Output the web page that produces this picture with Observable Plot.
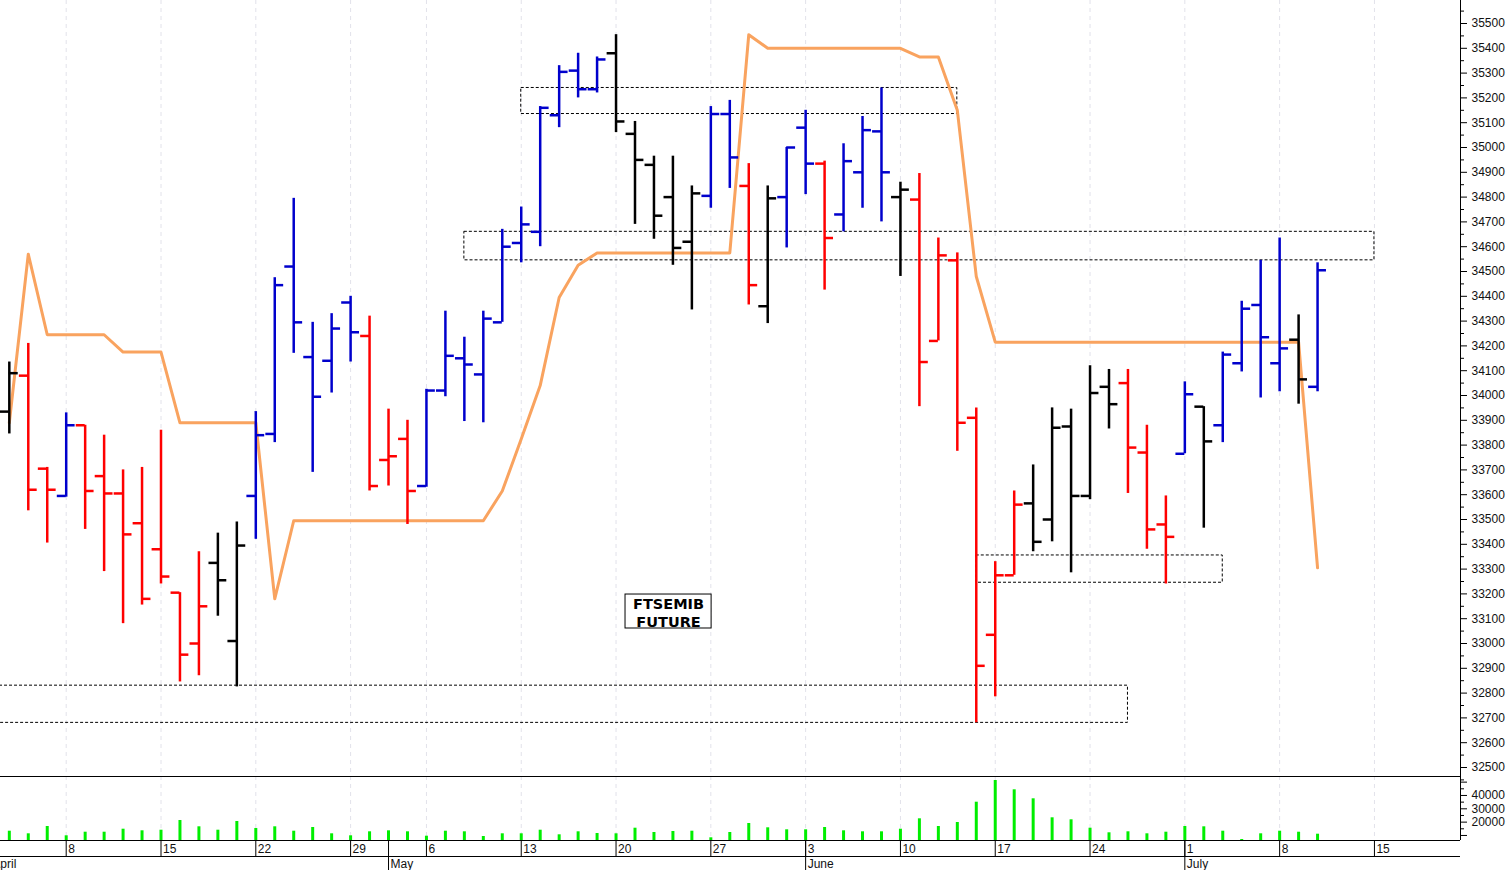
<!DOCTYPE html>
<html>
<head>
<meta charset="utf-8">
<script src="https://cdn.jsdelivr.net/npm/d3@7"></script>
<script src="https://cdn.jsdelivr.net/npm/@observablehq/plot@0.6"></script>
<style>
html, body { margin: 0; padding: 0; background: #fff; }
#chart { position: relative; width: 1508px; height: 870px; overflow: hidden; background: #fff; }
#chart svg { display: block; }
</style>
</head>
<body>
<div id="chart"></div>
<script>
// ---------------- DATA ----------------
const dates = [
  "2024-04-03","2024-04-04","2024-04-05","2024-04-08","2024-04-09","2024-04-10","2024-04-11","2024-04-12","2024-04-15","2024-04-16",
  "2024-04-17","2024-04-18","2024-04-19","2024-04-22","2024-04-23","2024-04-24","2024-04-25","2024-04-26","2024-04-29","2024-04-30",
  "2024-05-02","2024-05-03","2024-05-06","2024-05-07","2024-05-08","2024-05-09","2024-05-10","2024-05-13","2024-05-14","2024-05-15",
  "2024-05-16","2024-05-17","2024-05-20","2024-05-21","2024-05-22","2024-05-23","2024-05-24","2024-05-27","2024-05-28","2024-05-29",
  "2024-05-30","2024-05-31","2024-06-03","2024-06-04","2024-06-05","2024-06-06","2024-06-07","2024-06-10","2024-06-11","2024-06-12",
  "2024-06-13","2024-06-14","2024-06-17","2024-06-18","2024-06-19","2024-06-20","2024-06-21","2024-06-24","2024-06-25","2024-06-26",
  "2024-06-27","2024-06-28","2024-07-01","2024-07-02","2024-07-03","2024-07-04","2024-07-05","2024-07-08","2024-07-09","2024-07-10"
];
const opens = [
  33935,34080,33705,33595,33880,33675,33605,33485,33380,33205,
  33000,33325,33010,33595,33845,34520,34155,34140,34375,34240,
  33740,33825,33635,34020,34150,34085,34295,34615,34660,35130,
  35310,35235,35380,35055,34930,34800,34620,34805,35135,34845,
  34360,34800,35080,34935,34730,34900,35065,34800,34790,34220,
  34545,33910,33035,33275,33565,33500,33875,33595,34035,34050,
  33770,33480,33765,33955,33880,34130,34365,34130,34225,34035
];
const highs = [
  34135,34210,33710,33930,33880,33840,33700,33710,33860,33205,
  33370,33445,33490,33935,34475,34795,34295,34330,34400,34320,
  33945,33900,34025,34340,34235,34340,34670,34760,35165,35330,
  35380,35365,35455,35105,34965,34965,34845,35165,35190,34935,
  34845,35000,35150,34945,35015,35125,35240,34860,34895,34635,
  34575,33950,33330,33615,33720,33950,33945,34120,34105,34105,
  33880,33595,34055,33955,34175,34380,34545,34635,34325,34535
];
const lows = [
  33845,33535,33405,33590,33460,33290,33080,33155,33240,32845,
  32870,33110,32825,33420,33810,34170,33690,34010,34135,33615,
  33635,33480,33630,33995,33895,33890,34295,34535,34600,35080,
  35200,35220,35060,34690,34630,34525,34345,34755,34835,34365,
  34290,34595,34810,34425,34660,34755,34700,34480,33955,34220,
  33775,32680,32785,33275,33370,33410,33285,33580,33865,33605,
  33380,33240,33765,33465,33810,34095,33990,34015,33965,34015
];
const closes = [
  34090,33620,33620,33880,33615,33605,33440,33180,33270,32955,
  33150,33255,33395,33840,34445,34295,33995,34270,34255,33635,
  33755,33615,34020,34160,34125,34310,34600,34690,35160,35305,
  35235,35355,35105,34950,34725,34595,34815,35135,34960,34445,
  34795,35000,34935,34635,34945,35070,34900,34830,34135,34565,
  33890,32910,33275,33560,33410,33870,33595,34010,33965,33790,
  33460,33430,34005,33815,34165,34350,34235,34190,34065,34505
];
// bar colour signal: R = red, B = blue, K = black
const signals = [
  "K","R","R","B","R","R","R","R","R","R",
  "R","K","K","B","B","B","B","B","B","R",
  "R","R","B","B","B","B","B","B","B","B",
  "B","B","K","K","K","K","K","B","B","R",
  "K","B","B","R","B","B","B","K","R","R",
  "R","R","R","R","K","K","K","K","K","R",
  "R","R","B","K","B","B","B","B","K","B"
];
// orange trailing line
const trend = [
  33890,34570,34245,34245,34245,34245,34175,34175,34175,33890,
  33890,33890,33890,33890,33180,33495,33495,33495,33495,33495,
  33495,33495,33495,33495,33495,33495,33615,33825,34040,34395,
  34525,34575,34575,34575,34575,34575,34575,34575,34575,35455,
  35400,35400,35400,35400,35400,35400,35400,35400,35365,35365,
  35150,34480,34215,34215,34215,34215,34215,34215,34215,34215,
  34215,34215,34215,34215,34215,34215,34215,34215,34215,33305
];
const volumes = [
  13200,11250,16725,9750,12450,12450,14700,13500,13950,21225,
  16500,13950,20475,15225,16500,13200,15975,11250,9750,12750,
  13500,12750,9450,13200,12750,9225,11250,11250,13950,10500,
  12750,11475,11250,15450,12225,12975,13200,8250,12225,18975,
  15750,14250,14250,15975,13500,12750,12750,14700,22500,16725,
  19725,34950,51225,44250,37500,23250,21750,15450,12000,12750,
  11250,12450,16725,16500,13200,6975,11250,13200,12450,10950
];
// dashed price zones
const zoneStart = ["2024-05-13","2024-05-08","2024-06-14","2024-03-25"];
const zoneEnd   = ["2024-06-13","2024-07-15","2024-07-03","2024-06-26"];
const zoneLow   = [35135, 34545, 33245, 32680];
const zoneHigh  = [35240, 34660, 33355, 32830];
// note box
const noteLines = ["FTSEMIB", "FUTURE"];
const noteDate = "2024-05-23";
const notePrice = 33129;
// axis ticks
const priceTicks = d3.range(32500, 35501, 100);
const priceMinor = d3.range(32450, 35600, 100);
const volTicks = [10000, 20000, 30000, 40000, 50000];
const volLabelled = [20000, 30000, 40000];
const volMinor = [15000, 25000, 35000, 45000];
const monthNames = ["January","February","March","April","May","June","July","August","September","October","November","December"];
const holidays = ["2024-03-29", "2024-04-01", "2024-05-01"];

// ---------------- TRADING CALENDAR ----------------
const cal = [];
for (let t = Date.UTC(2024, 2, 25); t <= Date.UTC(2024, 7, 2); t += 86400000) {
  const d = new Date(t), dow = d.getUTCDay(), s = d.toISOString().slice(0, 10);
  if (dow === 0 || dow === 6 || holidays.includes(s)) continue;
  cal.push(s);
}
const base = cal.indexOf("2024-04-08");
const idx = s => cal.indexOf(s) - base;

// layout constants (pixels)
const W = 1508, PLOT_RIGHT = 1460, X0 = 65.7, DAY = 18.96;
const xDomain = [-X0 / DAY, (PLOT_RIGHT - X0) / DAY];
const PRICE_H = 776, Y_TOP = 23, Y_BOT = 767;
const ppx = 3000 / (Y_BOT - Y_TOP);
const yDomain = [32500 - (PRICE_H - Y_BOT) * ppx, 35500 + Y_TOP * ppx];
const VOL_H = 64;
const vDomain = [6225, 54225];
const AX_H = 30;

const bars = dates.map((d, k) => ({
  i: idx(d), open: opens[k], high: highs[k], low: lows[k], close: closes[k],
  sig: signals[k], trend: trend[k], vol: volumes[k]
}));
const colorOf = {R: "#ff0000", B: "#0000cc", K: "#000000"};
const zones = zoneStart.map((s, k) => ({x1: idx(s), x2: idx(zoneEnd[k]), y1: zoneLow[k], y2: zoneHigh[k]}));
const mondays = cal
  .filter(s => new Date(s + "T00:00:00Z").getUTCDay() === 1)
  .map(s => ({i: idx(s), label: String(+s.slice(8))}))
  .filter(d => d.i >= xDomain[0] && d.i <= xDomain[1]);
const monthStarts = cal
  .filter((s, k) => k > 0 && s.slice(5, 7) !== cal[k - 1].slice(5, 7))
  .map(s => ({i: idx(s), label: monthNames[+s.slice(5, 7) - 1]}))
  .filter(d => d.i >= xDomain[0] - 2 && d.i <= xDomain[1]);

const noteC = idx(noteDate) - 0.23;
const note = [{x1: noteC - 2.27, x2: noteC + 2.27, y1: notePrice - 68.5, y2: notePrice + 68.5, x: noteC, y: notePrice, text: noteLines.join("\n")}];

const FONT = "'Liberation Sans', Arial, sans-serif";
const TICK = 0.47;
const svgStyle = {background: "transparent", overflow: "visible", fontFamily: FONT, fontSize: "12px"};
const grid = Plot.ruleX(mondays, {x: "i", stroke: "#e2e2ea", strokeDasharray: "4,4", strokeWidth: 1});

// ---------------- PRICE PANEL ----------------
const price = Plot.plot({
  width: W, height: PRICE_H,
  marginLeft: 0, marginRight: W - PLOT_RIGHT, marginTop: 0, marginBottom: 0,
  style: svgStyle,
  x: {domain: xDomain, axis: null},
  y: {domain: yDomain, axis: null},
  color: {type: "identity"},
  marks: [
    grid,
    Plot.rect(zones, {x1: "x1", x2: "x2", y1: "y1", y2: "y2", fill: "none", stroke: "#000", strokeWidth: 1, strokeDasharray: "3,2", clip: true}),
    Plot.line(bars, {x: "i", y: "trend", stroke: "#f9a35f", strokeWidth: 3}),
    Plot.ruleX(bars, {x: "i", y1: "low", y2: "high", stroke: d => colorOf[d.sig], strokeWidth: 2.5}),
    Plot.ruleY(bars, {y: "open", x1: d => d.i - TICK, x2: "i", stroke: d => colorOf[d.sig], strokeWidth: 2.5}),
    Plot.ruleY(bars, {y: "close", x1: "i", x2: d => d.i + TICK, stroke: d => colorOf[d.sig], strokeWidth: 2.5}),
    Plot.rect(note, {x1: "x1", x2: "x2", y1: "y1", y2: "y2", fill: "white", stroke: "#000", strokeWidth: 1}),
    Plot.text(note, {x: "x", y: "y", text: "text", fill: "#000", fontWeight: "bold", fontSize: 14.5, lineHeight: 1.18, dy: 1, fontFamily: "'DejaVu Sans', Verdana, sans-serif"}),
    Plot.axisY({anchor: "right", ticks: priceMinor, tickSize: 3, tickFormat: () => "", label: null}),
    Plot.axisY({anchor: "right", ticks: priceTicks, tickSize: 6, tickPadding: 5, tickFormat: d => String(d), label: null, fontSize: 12, fill: "#111"}),
    Plot.ruleX([xDomain[1]], {stroke: "#000", strokeWidth: 1})
  ]
});

// ---------------- VOLUME PANEL ----------------
const volume = Plot.plot({
  width: W, height: VOL_H,
  marginLeft: 0, marginRight: W - PLOT_RIGHT, marginTop: 0, marginBottom: 0,
  style: svgStyle,
  x: {domain: xDomain, axis: null},
  y: {domain: vDomain, axis: null},
  marks: [
    grid,
    Plot.ruleX(bars, {x: "i", y1: vDomain[0], y2: "vol", stroke: "#00ee00", strokeWidth: 3}),
    Plot.ruleY([vDomain[1], vDomain[0]], {stroke: "#000", strokeWidth: 1.2}),
    Plot.axisY({anchor: "right", ticks: volMinor, tickSize: 3, tickFormat: () => "", label: null}),
    Plot.axisY({anchor: "right", ticks: volTicks, tickSize: 6, tickPadding: 5, tickFormat: d => volLabelled.includes(d) ? String(d) : "", label: null, fontSize: 12, fill: "#111"}),
    Plot.ruleX([xDomain[1]], {stroke: "#000", strokeWidth: 1})
  ]
});

// ---------------- DATE AXIS ----------------
const dateAxis = Plot.plot({
  width: W, height: AX_H,
  marginLeft: 0, marginRight: W - PLOT_RIGHT, marginTop: 0, marginBottom: 0,
  style: svgStyle,
  x: {domain: xDomain, axis: null},
  y: {domain: [0, AX_H], range: [0, AX_H], axis: null},
  marks: [
    Plot.ruleY([16], {stroke: "#000", strokeWidth: 1.2}),
    Plot.ruleX(mondays, {x: "i", y1: 0, y2: 16, stroke: "#000"}),
    Plot.ruleX(monthStarts, {x: "i", y1: 0, y2: AX_H, stroke: "#000"}),
    Plot.text(mondays, {x: "i", y: 9, text: "label", textAnchor: "start", dx: 2, fontSize: 12, fill: "#111"}),
    Plot.text(monthStarts, {x: "i", y: 24, text: "label", textAnchor: "start", dx: 2, fontSize: 12, fill: "#111"})
  ]
});

const chart = document.getElementById("chart");
chart.append(price, volume, dateAxis);
</script>
</body>
</html>
